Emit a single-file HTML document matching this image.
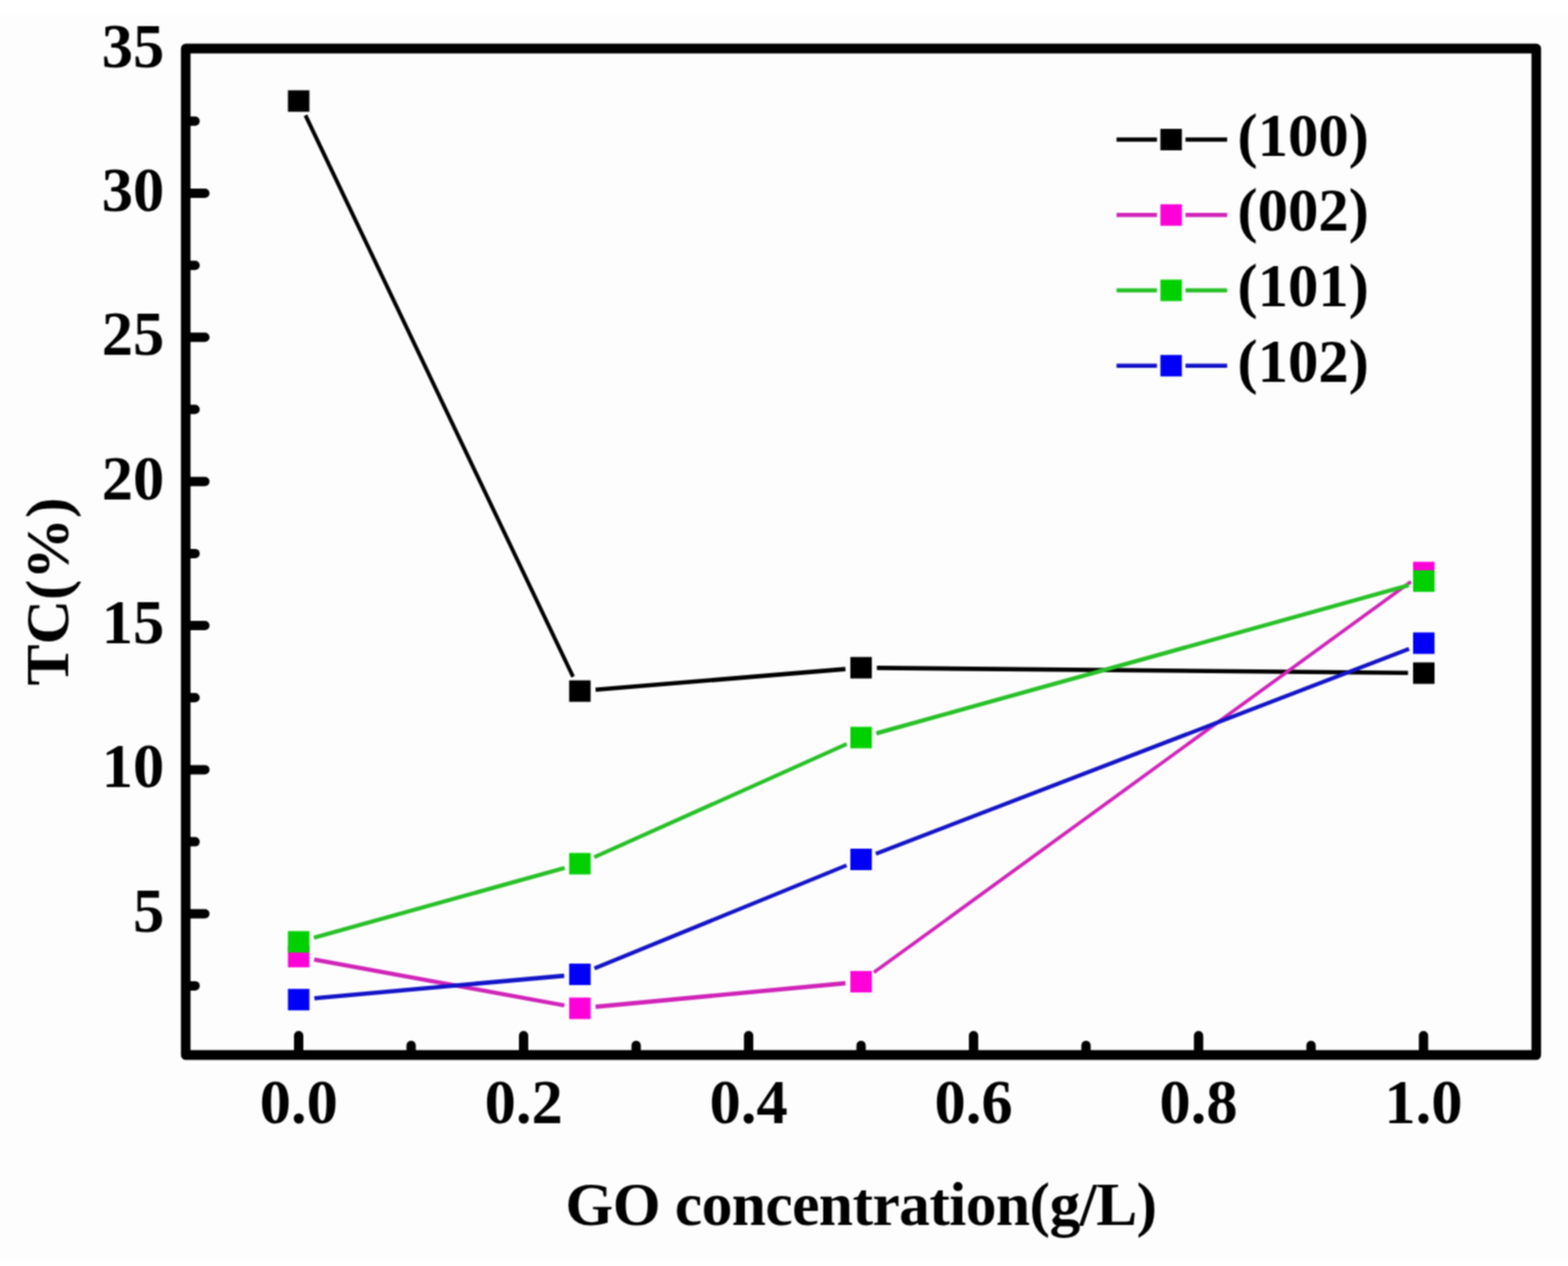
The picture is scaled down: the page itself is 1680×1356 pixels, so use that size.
<!DOCTYPE html><html><head><meta charset="utf-8"><title>TC vs GO concentration</title>
<style>html,body{margin:0;padding:0;background:#fff;}svg{display:block;}text{font-family:"Liberation Serif","Times New Roman",serif;font-weight:bold;fill:#000;}</style></head><body>
<svg width="1680" height="1356" viewBox="0 0 1680 1356">
<defs><filter id="soft" filterUnits="userSpaceOnUse" x="0" y="0" width="1680" height="1356" color-interpolation-filters="sRGB"><feConvolveMatrix order="3" kernelMatrix="1 2 1 2 4 2 1 2 1" divisor="16" edgeMode="duplicate"/></filter></defs>
<g filter="url(#soft)">
<rect x="0" y="0" width="1680" height="1356" fill="#ffffff"/>
<rect x="0" y="16" width="1680" height="1335" fill="#fdfdfd"/>
<line x1="327.3" y1="123.5" x2="614.0" y2="724.9" stroke="#000000" stroke-width="4.15"/>
<line x1="638.1" y1="738.8" x2="905.8" y2="716.6" stroke="#000000" stroke-width="4.58"/>
<line x1="939.5" y1="715.4" x2="1508.6" y2="720.8" stroke="#000000" stroke-width="4.60"/>
<rect x="308.50" y="96.70" width="23.0" height="23.0" fill="#000000"/>
<rect x="609.80" y="728.70" width="23.0" height="23.0" fill="#000000"/>
<rect x="911.10" y="703.70" width="23.0" height="23.0" fill="#000000"/>
<rect x="1514.00" y="709.50" width="23.0" height="23.0" fill="#000000"/>
<line x1="336.6" y1="1027.7" x2="604.7" y2="1076.9" stroke="#d024b8" stroke-width="4.52"/>
<line x1="638.1" y1="1078.4" x2="905.8" y2="1053.1" stroke="#d024b8" stroke-width="4.58"/>
<line x1="936.3" y1="1041.6" x2="1511.8" y2="623.1" stroke="#d024b8" stroke-width="3.72"/>
<rect x="308.50" y="1013.10" width="23.0" height="23.0" fill="#ff00d8"/>
<rect x="609.80" y="1068.50" width="23.0" height="23.0" fill="#ff00d8"/>
<rect x="911.10" y="1040.00" width="23.0" height="23.0" fill="#ff00d8"/>
<rect x="1514.00" y="601.70" width="23.0" height="23.0" fill="#ff00d8"/>
<line x1="336.3" y1="1004.3" x2="605.0" y2="929.6" stroke="#28c028" stroke-width="4.43"/>
<line x1="636.7" y1="918.2" x2="907.2" y2="796.9" stroke="#28c028" stroke-width="4.20"/>
<line x1="938.9" y1="785.5" x2="1509.2" y2="626.9" stroke="#28c028" stroke-width="4.43"/>
<rect x="308.50" y="997.30" width="23.0" height="23.0" fill="#00d000"/>
<rect x="609.80" y="913.60" width="23.0" height="23.0" fill="#00d000"/>
<rect x="911.10" y="778.50" width="23.0" height="23.0" fill="#00d000"/>
<rect x="1514.00" y="610.90" width="23.0" height="23.0" fill="#00d000"/>
<line x1="336.8" y1="1069.2" x2="604.5" y2="1045.1" stroke="#1414c8" stroke-width="4.58"/>
<line x1="636.9" y1="1037.2" x2="907.0" y2="926.9" stroke="#1414c8" stroke-width="4.26"/>
<line x1="938.4" y1="914.4" x2="1509.7" y2="695.0" stroke="#1414c8" stroke-width="4.29"/>
<rect x="308.50" y="1059.20" width="23.0" height="23.0" fill="#0000f8"/>
<rect x="609.80" y="1032.10" width="23.0" height="23.0" fill="#0000f8"/>
<rect x="911.10" y="909.00" width="23.0" height="23.0" fill="#0000f8"/>
<rect x="1514.00" y="677.40" width="23.0" height="23.0" fill="#0000f8"/>
<rect x="199" y="52" width="1447" height="1078" fill="none" stroke="#000" stroke-width="10.3" stroke-linejoin="round"/>
<line x1="199" y1="1055.9" x2="209.0" y2="1055.9" stroke="#000" stroke-width="10" stroke-linecap="round"/>
<line x1="199" y1="978.7" x2="219.5" y2="978.7" stroke="#000" stroke-width="10" stroke-linecap="round"/>
<line x1="199" y1="901.6" x2="209.0" y2="901.6" stroke="#000" stroke-width="10" stroke-linecap="round"/>
<line x1="199" y1="824.4" x2="219.5" y2="824.4" stroke="#000" stroke-width="10" stroke-linecap="round"/>
<line x1="199" y1="747.2" x2="209.0" y2="747.2" stroke="#000" stroke-width="10" stroke-linecap="round"/>
<line x1="199" y1="670.0" x2="219.5" y2="670.0" stroke="#000" stroke-width="10" stroke-linecap="round"/>
<line x1="199" y1="592.9" x2="209.0" y2="592.9" stroke="#000" stroke-width="10" stroke-linecap="round"/>
<line x1="199" y1="515.7" x2="219.5" y2="515.7" stroke="#000" stroke-width="10" stroke-linecap="round"/>
<line x1="199" y1="438.5" x2="209.0" y2="438.5" stroke="#000" stroke-width="10" stroke-linecap="round"/>
<line x1="199" y1="361.3" x2="219.5" y2="361.3" stroke="#000" stroke-width="10" stroke-linecap="round"/>
<line x1="199" y1="284.2" x2="209.0" y2="284.2" stroke="#000" stroke-width="10" stroke-linecap="round"/>
<line x1="199" y1="207.0" x2="219.5" y2="207.0" stroke="#000" stroke-width="10" stroke-linecap="round"/>
<line x1="199" y1="129.8" x2="209.0" y2="129.8" stroke="#000" stroke-width="10" stroke-linecap="round"/>
<line x1="320.0" y1="1130" x2="320.0" y2="1109.25" stroke="#000" stroke-width="10" stroke-linecap="round"/>
<line x1="440.5" y1="1130" x2="440.5" y2="1119.75" stroke="#000" stroke-width="10" stroke-linecap="round"/>
<line x1="561.0" y1="1130" x2="561.0" y2="1109.25" stroke="#000" stroke-width="10" stroke-linecap="round"/>
<line x1="681.6" y1="1130" x2="681.6" y2="1119.75" stroke="#000" stroke-width="10" stroke-linecap="round"/>
<line x1="802.1" y1="1130" x2="802.1" y2="1109.25" stroke="#000" stroke-width="10" stroke-linecap="round"/>
<line x1="922.6" y1="1130" x2="922.6" y2="1119.75" stroke="#000" stroke-width="10" stroke-linecap="round"/>
<line x1="1043.1" y1="1130" x2="1043.1" y2="1109.25" stroke="#000" stroke-width="10" stroke-linecap="round"/>
<line x1="1163.6" y1="1130" x2="1163.6" y2="1119.75" stroke="#000" stroke-width="10" stroke-linecap="round"/>
<line x1="1284.2" y1="1130" x2="1284.2" y2="1109.25" stroke="#000" stroke-width="10" stroke-linecap="round"/>
<line x1="1404.7" y1="1130" x2="1404.7" y2="1119.75" stroke="#000" stroke-width="10" stroke-linecap="round"/>
<line x1="1525.2" y1="1130" x2="1525.2" y2="1109.25" stroke="#000" stroke-width="10" stroke-linecap="round"/>
<text x="176" y="997.7" font-size="67" text-anchor="end">5</text>
<text x="176" y="843.4" font-size="67" text-anchor="end">10</text>
<text x="176" y="689.0" font-size="67" text-anchor="end">15</text>
<text x="176" y="534.7" font-size="67" text-anchor="end">20</text>
<text x="176" y="380.3" font-size="67" text-anchor="end">25</text>
<text x="176" y="226.0" font-size="67" text-anchor="end">30</text>
<text x="176" y="71.6" font-size="67" text-anchor="end">35</text>
<text x="320.0" y="1203" font-size="67" text-anchor="middle">0.0</text>
<text x="561.0" y="1203" font-size="67" text-anchor="middle">0.2</text>
<text x="802.1" y="1203" font-size="67" text-anchor="middle">0.4</text>
<text x="1043.1" y="1203" font-size="67" text-anchor="middle">0.6</text>
<text x="1284.2" y="1203" font-size="67" text-anchor="middle">0.8</text>
<text x="1525.2" y="1203" font-size="67" text-anchor="middle">1.0</text>
<text x="922.8" y="1311.5" font-size="66" text-anchor="middle" textLength="634" lengthAdjust="spacing">GO concentration(g/L)</text>
<text transform="translate(72.7,633.5) rotate(-90)" x="0" y="0" font-size="66" text-anchor="middle">TC(%)</text>
<line x1="1196.3" y1="149.5" x2="1239.6" y2="149.5" stroke="#000000" stroke-width="4.6"/>
<line x1="1270.2" y1="149.5" x2="1314.8" y2="149.5" stroke="#000000" stroke-width="4.6"/>
<rect x="1243.30" y="138.00" width="23.0" height="23.0" fill="#000000"/>
<text x="1325.8" y="166.5" font-size="66" textLength="141" lengthAdjust="spacingAndGlyphs">(100)</text>
<line x1="1196.3" y1="230.3" x2="1239.6" y2="230.3" stroke="#d024b8" stroke-width="4.6"/>
<line x1="1270.2" y1="230.3" x2="1314.8" y2="230.3" stroke="#d024b8" stroke-width="4.6"/>
<rect x="1243.30" y="218.80" width="23.0" height="23.0" fill="#ff00d8"/>
<text x="1325.8" y="247.3" font-size="66" textLength="141" lengthAdjust="spacingAndGlyphs">(002)</text>
<line x1="1196.3" y1="311.0" x2="1239.6" y2="311.0" stroke="#28c028" stroke-width="4.6"/>
<line x1="1270.2" y1="311.0" x2="1314.8" y2="311.0" stroke="#28c028" stroke-width="4.6"/>
<rect x="1243.30" y="299.50" width="23.0" height="23.0" fill="#00d000"/>
<text x="1325.8" y="328.0" font-size="66" textLength="141" lengthAdjust="spacingAndGlyphs">(101)</text>
<line x1="1196.3" y1="391.7" x2="1239.6" y2="391.7" stroke="#1414c8" stroke-width="4.6"/>
<line x1="1270.2" y1="391.7" x2="1314.8" y2="391.7" stroke="#1414c8" stroke-width="4.6"/>
<rect x="1243.30" y="380.20" width="23.0" height="23.0" fill="#0000f8"/>
<text x="1325.8" y="408.7" font-size="66" textLength="141" lengthAdjust="spacingAndGlyphs">(102)</text>
</g></svg></body></html>
